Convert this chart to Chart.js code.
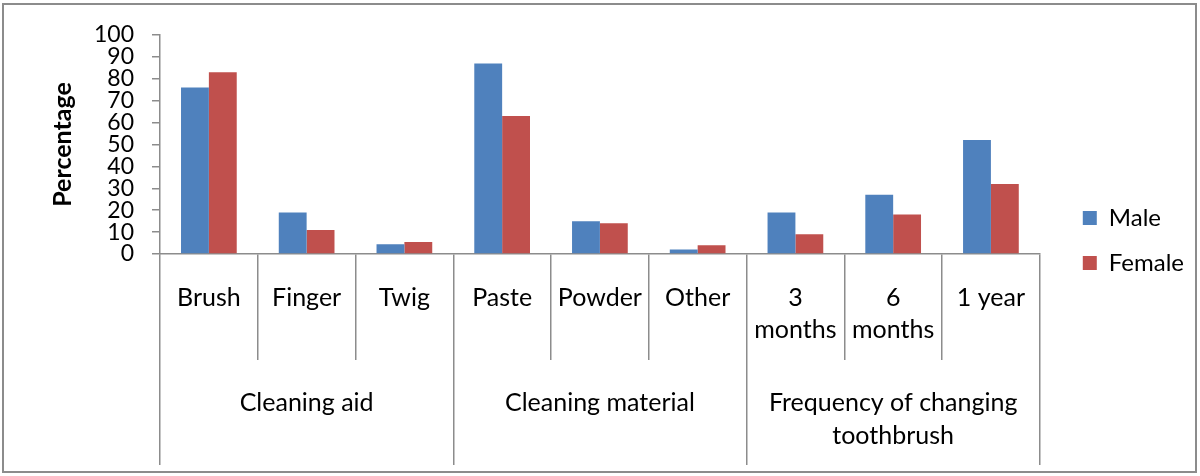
<!DOCTYPE html>
<html>
<head>
<meta charset="utf-8">
<script src="https://cdn.jsdelivr.net/npm/chart.js@4/dist/chart.umd.min.js"></script>
<style>
  html, body { margin: 0; padding: 0; background: #fff; }
  #wrap { position: relative; width: 1200px; height: 476px; }
  #frame { position: absolute; left: 2px; top: 3px; width: 1195px; height: 470px; box-sizing: border-box; border: 2px solid #8c8c8c; pointer-events: none; }
  canvas { position: absolute; left: 0; top: 0; }
</style>
</head>
<body>
<div id="wrap">
  <canvas id="chart" width="1200" height="476"></canvas>
  <div id="frame"></div>
</div>
<script>
const categories = ['Brush', 'Finger', 'Twig', 'Paste', 'Powder', 'Other', ['3', 'months'], ['6', 'months'], '1 year'];
const groups = ['Cleaning aid', 'Cleaning material', ['Frequency of changing', 'toothbrush']];
const male = [76, 19, 4.5, 87, 15, 2, 19, 27, 52];
const female = [83, 11, 5.5, 63, 14, 4, 9, 18, 32];
const yMin = 0, yMax = 100, yStep = 10;

const FONT = 'Lato, "Open Sans", sans-serif';
const AXIS = '#8c8c8c';

new Chart(document.getElementById('chart'), {
  type: 'bar',
  data: {
    labels: categories,
    datasets: [
      { label: 'Male', data: male, backgroundColor: '#4F81BD', borderWidth: 0, categoryPercentage: 0.57, barPercentage: 1 },
      { label: 'Female', data: female, backgroundColor: '#C0504D', borderWidth: 0, categoryPercentage: 0.57, barPercentage: 1 }
    ]
  },
  options: {
    responsive: false, animation: false,
    layout: { padding: { top: 35, right: 6, bottom: 11, left: 0 } },
    plugins: {
      tooltip: { enabled: false },
      legend: {
        position: 'right', align: 'start',
        // empty title only pushes the two items down to where the reference has them
        title: { display: true, text: '', padding: { top: 70, bottom: 70 }, font: { size: 10, lineHeight: 1 } },
        labels: { boxWidth: 14, boxHeight: 14, padding: 21, color: '#000', font: { family: FONT, size: 24 } }
      }
    },
    scales: {
      x: {
        offset: true,
        grid: { offset: true, drawOnChartArea: false, tickLength: 106, color: AXIS, lineWidth: 1.5 },
        border: { display: true, color: AXIS, width: 1.5 },
        ticks: { padding: -78, maxRotation: 0, autoSkip: false, color: '#000', font: { family: FONT, size: 25, lineHeight: 1.28 } },
        afterFit: s => { s.height = 106; }
      },
      x2: {
        type: 'category', labels: groups, position: 'bottom', offset: true,
        grid: { offset: true, drawOnChartArea: false, tickLength: 105, color: AXIS, lineWidth: 1.5 },
        border: { display: false },
        ticks: { padding: -79, maxRotation: 0, autoSkip: false, color: '#000', font: { family: FONT, size: 25, lineHeight: 1.32 } },
        afterFit: s => { s.height = 105; }
      },
      y: {
        min: yMin, max: yMax,
        grid: { drawOnChartArea: false, tickLength: 8, color: AXIS, lineWidth: 1.5 },
        border: { display: true, color: AXIS, width: 1.5 },
        ticks: { stepSize: yStep, autoSkip: false, padding: 18, color: '#000', font: { family: FONT, size: 23, lineHeight: 1 } },
        title: { display: true, text: 'Percentage', color: '#000', padding: { top: 48, bottom: 0 }, font: { family: FONT, size: 25, weight: 'bold' } },
        afterFit: s => { s.width = 160; }
      },
      yPad: {
        type: 'linear', position: 'right', display: true,
        grid: { display: false }, border: { display: false }, ticks: { display: false },
        afterFit: s => { s.width = 22; }
      }
    }
  }
});
</script>
</body>
</html>
